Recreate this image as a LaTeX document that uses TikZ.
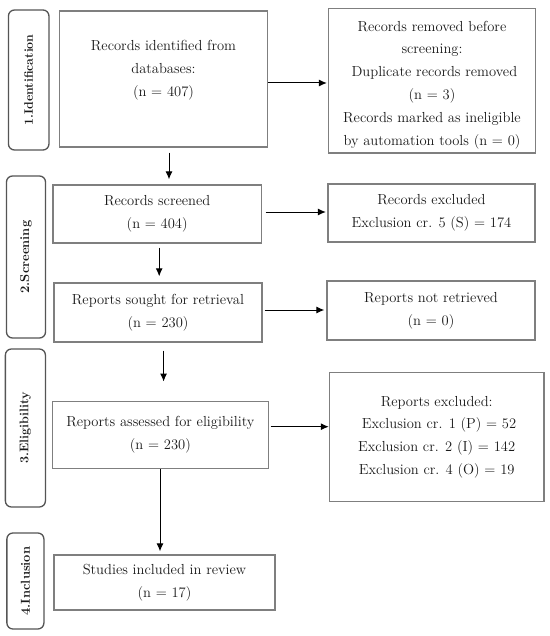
\documentclass[tikz,border=0pt]{standalone}
\usetikzlibrary{arrows.meta}
\definecolor{boxgray}{HTML}{7F7F7F}
\definecolor{phasegray}{HTML}{555555}
\definecolor{txt}{HTML}{1A1A1A}
\begin{document}
\begin{tikzpicture}[x=1bp,y=-1bp,
  box/.style={draw=boxgray, line width=1.3bp, inner sep=0pt, align=center, text=txt, font=\fontsize{14.6}{23}\selectfont},
  boxtext/.style={inner sep=0pt, align=center, text=txt, font=\fontsize{14.6}{23}\selectfont},
  phase/.style={draw=phasegray, line width=1.3bp, rounded corners=6bp, inner sep=0pt, rotate=90, text=txt},
  arr/.style={-{Latex[length=8bp,width=7bp]}, line width=1bp, black},
]
\useasboundingbox (0,0) rectangle (550,636);
\fill[white] (0,0) rectangle (550,636);

\node[phase, minimum width=140bp, minimum height=40.5bp, font=\bfseries\fontsize{12.4}{14}\selectfont] (p1) at (28.7,80) {1.Identification};
\node[phase, minimum width=162bp, minimum height=39bp, font=\bfseries\fontsize{13}{16}\selectfont] (p2) at (26,257) {2.Screening};
\node[phase, minimum width=158bp, minimum height=40bp, font=\bfseries\fontsize{12.6}{16}\selectfont] (p3) at (25.4,428) {3.Eligibility};
\node[phase, minimum width=96bp, minimum height=37bp, font=\bfseries\fontsize{13}{16}\selectfont] (p4) at (25.4,581) {4.Inclusion};

\node[box, minimum width=208bp, minimum height=136bp] (b1) at (163.5,79) {};
\node[boxtext] (t1) at (163.5,70) {Records identified from\\databases:\\(n = 407)};
\node[box, minimum width=207bp, minimum height=144.7bp] (rem) at (432,80.7) {};
\node[boxtext] (t2) at (432,85) {Records removed before\\screening:\\\ Duplicate records removed\\(n = 3)\\Records marked as ineligible\\by automation tools (n = 0)};
\node[box, minimum width=208.5bp, minimum height=58bp] (scr) at (157.2,214) {Records screened\\(n = 404)};
\node[box, minimum width=207bp, minimum height=58bp] (exc) at (431.5,213) {Records excluded\\Exclusion cr. 5 (S) = 174};
\node[box, minimum width=208bp, minimum height=59bp] (sou) at (158,312.5) {Reports sought for retrieval\\(n = 230)};
\node[box, minimum width=208bp, minimum height=59bp] (nr) at (431,310.5) {Reports not retrieved\\(n = 0)};
\node[box, minimum width=216bp, minimum height=66.6bp] (ass) at (160.4,435) {Reports assessed for eligibility\\(n = 230)};
\node[box, minimum width=214.5bp, minimum height=129bp] (ex2) at (436.7,437.2) {Reports excluded:\\\ Exclusion cr. 1 (P) = 52\\Exclusion cr. 2 (I) = 142\\Exclusion cr. 4 (O) = 19};
\node[box, minimum width=221bp, minimum height=55bp] (stu) at (164.5,582.5) {Studies included in review\\(n = 17)};

\coordinate (a1) at ([yshift=-4bp]b1.east);
\draw[arr, shorten >=1bp] (a1) -- (a1 -| rem.west);
\coordinate (v1) at ([xshift=5.5bp]b1.south);
\draw[arr, shorten <=5bp, shorten >=5bp] (v1) -- (v1 |- scr.north);
\coordinate (a2) at ([yshift=2bp]scr.east);
\draw[arr, shorten <=3.5bp, shorten >=1.5bp] (a2) -- (a2 -| exc.west);
\coordinate (v2) at ([xshift=2bp]scr.south);
\draw[arr, shorten <=4bp, shorten >=6bp] (v2) -- (v2 |- sou.north);
\coordinate (a3) at ([yshift=2.5bp]sou.east);
\draw[arr, shorten <=2bp, shorten >=2bp] (a3) -- (a3 -| nr.west);
\coordinate (v3) at ([xshift=5.6bp]sou.south);
\draw[arr, shorten <=8bp, shorten >=19.5bp] (v3) -- (v3 |- ass.north);
\coordinate (a4) at ([yshift=8.3bp]ass.east);
\draw[arr, shorten <=1.5bp] (a4) -- (a4 -| ex2.west);
\coordinate (v4) at ([xshift=-0.4bp]ass.south);
\draw[arr, shorten >=3bp] (v4) -- (v4 |- stu.north);
\end{tikzpicture}
\end{document}
